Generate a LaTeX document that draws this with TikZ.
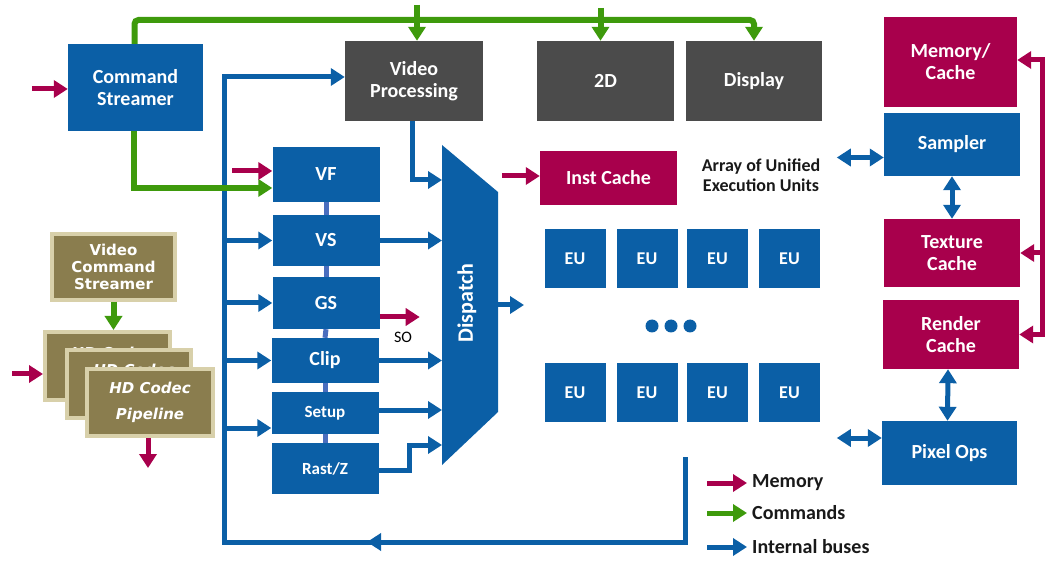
\documentclass[tikz,border=0pt]{standalone}
\usepackage{fontspec}
\setmainfont{Carlito}
\newfontfamily\vcsfont{DejaVu Sans}
\usetikzlibrary{arrows.meta,decorations.markings}
\definecolor{ablue}{HTML}{0B5FA6}
\definecolor{amag}{HTML}{A8004C}
\definecolor{agreen}{HTML}{3E9A0C}
\definecolor{agray}{HTML}{4B4B4B}
\definecolor{aolive}{HTML}{8A7D4E}
\definecolor{aolivelt}{HTML}{D8D0AA}
\definecolor{alink}{HTML}{4A6EBE}
\begin{document}
\begin{tikzpicture}[x=1pt,y=-1pt,
    sz/.style 2 args={minimum width=#1pt,minimum height=#2pt},
    box/.style={fill=ablue,text=white,font=\bfseries\fontsize{20}{22}\selectfont,align=center,inner sep=0pt},
    membox/.style={box,fill=amag},
    graybox/.style={box,fill=agray},
    olivebox/.style={box,fill=aolive,draw=aolivelt,line width=4pt,font=\vcsfont\bfseries\fontsize{15}{17}\selectfont},
    hdbox/.style={olivebox,font=\vcsfont\bfseries\itshape\fontsize{15}{26}\selectfont},
    hdtext/.style={text=white,font=\vcsfont\bfseries\itshape\fontsize{15}{17}\selectfont,inner sep=0pt},
    bus/.style={ablue,line width=5pt},
    mem/.style={amag,line width=5pt},
    cmdl/.style={agreen,line width=6pt},
    link/.style={alink,line width=5pt},
    tip/.style={-{Triangle[length=14pt,width=17pt]}},
    tips/.style={{Triangle[length=14pt,width=17pt]}-{Triangle[length=14pt,width=17pt]}}]
    \useasboundingbox (0,0) rectangle (1050,561);
    \node[box,sz={135}{87}] (cmd) at (135.5,87.5) {Command\\Streamer};
    \node[graybox,sz={138}{80}] (vp) at (414,81) {Video\\Processing};
    \node[graybox,sz={137}{80}] (twod) at (605.5,81) {2D};
    \node[graybox,sz={136}{80}] (disp) at (754,81) {Display};
    \node[box,sz={107}{55}] (vf) at (326,174.5) {VF};
    \node[box,sz={107}{51}] (vs) at (326,240.5) {VS};
    \node[box,sz={107}{52}] (gs) at (326,303) {GS};
    \node[box,sz={107}{45}] (clip) at (325,360.5) {Clip};
    \node[box,sz={107}{42},font=\bfseries\fontsize{17}{19}\selectfont] (setup) at (325,413) {Setup};
    \node[box,sz={107}{51},font=\bfseries\fontsize{17}{19}\selectfont] (rast) at (325,468.5) {Rast/Z};
    \node[membox,sz={137}{54}] (inst) at (608.5,178) {Inst Cache};
    \foreach \x [count=\i] in {575,647,717.5,789.5}{
        \node[box,sz={61}{59},font=\bfseries\fontsize{18}{20}\selectfont] (eua\i) at (\x,258.5) {EU};
        \node[box,sz={61}{59},font=\bfseries\fontsize{18}{20}\selectfont] (eub\i) at (\x,392.5) {EU};
    }
    \foreach \x in {652,671,690}
        \fill[ablue] (\x,326) circle (6.5pt);
    \node[membox,sz={133}{90}] (mem) at (950.5,62) {Memory/\\Cache};
    \node[box,sz={136}{63}] (samp) at (952,144.5) {Sampler};
    \node[membox,sz={136}{68}] (tex) at (952,253) {Texture\\Cache};
    \node[membox,sz={136}{69}] (rend) at (951,334.5) {Render\\Cache};
    \node[box,sz={135}{64}] (pix) at (949.5,453) {Pixel Ops};
    \node[font=\bfseries\fontsize{18}{20}\selectfont,align=center,text=black!90] (arr) at (761,175) {Array of Unified\\Execution Units};
    \fill[ablue] (442,145) -- (498,192) -- (498,412) -- (442,465) -- cycle;
    \node[text=white,font=\bfseries\fontsize{22}{24}\selectfont,rotate=90] (dsp) at (467,303) {Dispatch};
    \coordinate (dl) at (442,0);
    \coordinate (dr) at (498,305);
    \coordinate (bus) at (224,0);
    \coordinate (busend) at (685,457);
    \coordinate (gtop) at (0,20);
    \coordinate (mr) at (1042,0);
    \draw[bus,tip,postaction={decorate},decoration={markings,mark=at position 403pt with {\arrow{Triangle[length=14pt,width=17pt]}}}]
        (busend) |- (bus |- 0,542) |- ([yshift=4pt]vp.west);
    \foreach \n in {vs,gs,clip}
        \draw[bus,tip] (bus |- \n.west) -- (\n.west);
    \draw[bus,tip] (bus |- 0,428) -- ([yshift=-15pt]setup.west);
    \foreach \a/\b in {vf/vs,vs/gs,gs/clip,clip/setup,setup/rast}
        \draw[link] (\a.south) -- (\b.north);
    \foreach \n in {vs,clip}
        \draw[bus,tip] (\n.east) -- (dl |- \n.east);
    \draw[bus,tip] ([yshift=3pt]setup.east) -- (dl |- 0,410);
    \draw[bus,tip] ([yshift=-1.5pt]rast.east) -- ++(31,0) |- (dl |- 0,445);
    \draw[bus,tip] ([xshift=-2pt]vp.south) |- (dl |- 0,180);
    \draw[bus,tip] (dr) -- ++(26,0);
    \draw[mem,tip] ([yshift=-14pt]gs.east) -- ++(40,0);
    \node[font=\fontsize{16}{18}\selectfont] (so) at (403,337) {SO};
    \draw[mem,tip] ([xshift=-38pt,yshift=2pt]inst.west) -- ([yshift=2pt]inst.west);
    \draw[cmdl,tip,rounded corners=4pt] ([xshift=-1pt]cmd.north) |- (gtop -| disp.north) -- (disp.north);
    \draw[cmdl,tip] ([xshift=3pt]vp.north |- 0,5) -- ([xshift=3pt]vp.north);
    \draw[cmdl,tip] ([xshift=-5pt]twod.north |- 0,8) -- ([xshift=-5pt]twod.north);
    \draw[cmdl,tip] ([xshift=-2pt]cmd.south) |- ([yshift=-13.5pt]vf.west);
    \draw[mem,tip] ([xshift=-40pt,yshift=3.5pt]vf.west) -- ([yshift=3.5pt]vf.west);
    \draw[mem,tip] ([xshift=-36pt,yshift=-1.5pt]cmd.west) -- ([yshift=-1.5pt]cmd.west);
    \draw[mem,tips] ([yshift=2pt]mem.east) -| (mr |- rend.east) -- (rend.east);
    \draw[mem,tip] (mr |- tex.east) -- (tex.east);
    \draw[bus,tips] ([yshift=-13pt]samp.west) -- ++(-47,0);
    \draw[bus,tips] (samp.south) -- (tex.north);
    \draw[bus,tips] ([xshift=-3pt]rend.south) -- ([xshift=-2pt]pix.north);
    \draw[bus,tips] ([yshift=15pt]pix.west) -- ++(-45,0);
    \node[olivebox,sz={123}{66}] (vcs) at (113.5,267) {Video\\Command\\Streamer};
    \node[olivebox,sz={125}{68}] (hd1) at (107.5,366) {};
    \node[hdtext] (hd1t) at (112,353) {HD Codec};
    \node[olivebox,sz={124}{68}] (hd2) at (129,384) {};
    \node[hdtext] (hd2t) at (134,370) {HD Codec};
    \node[hdbox,sz={126}{67}] (hd3) at (150,402.5) {HD Codec\\Pipeline};
    \draw[cmdl,tip] (vcs.south) -- (vcs.south |- hd1.north);
    \draw[mem,tip] ([xshift=-31pt,yshift=-8pt]hd1.west) -- ([yshift=-8pt]hd1.west);
    \draw[mem,tip] ([xshift=-2pt]hd3.south) -- ++(0,30);
    \foreach \col/\y/\txt [count=\i] in {amag/483/Memory,agreen/513/Commands,ablue/547/Internal buses}{
        \node[anchor=west,inner sep=0pt,font=\bfseries\fontsize{20}{22}\selectfont,text=black!90] (lg\i) at (752,\y) {\txt};
        \draw[\col,line width=5pt,tip] ([xshift=-45pt]lg\i.west) -- ([xshift=-5pt]lg\i.west);
    }
\end{tikzpicture}
\end{document}
